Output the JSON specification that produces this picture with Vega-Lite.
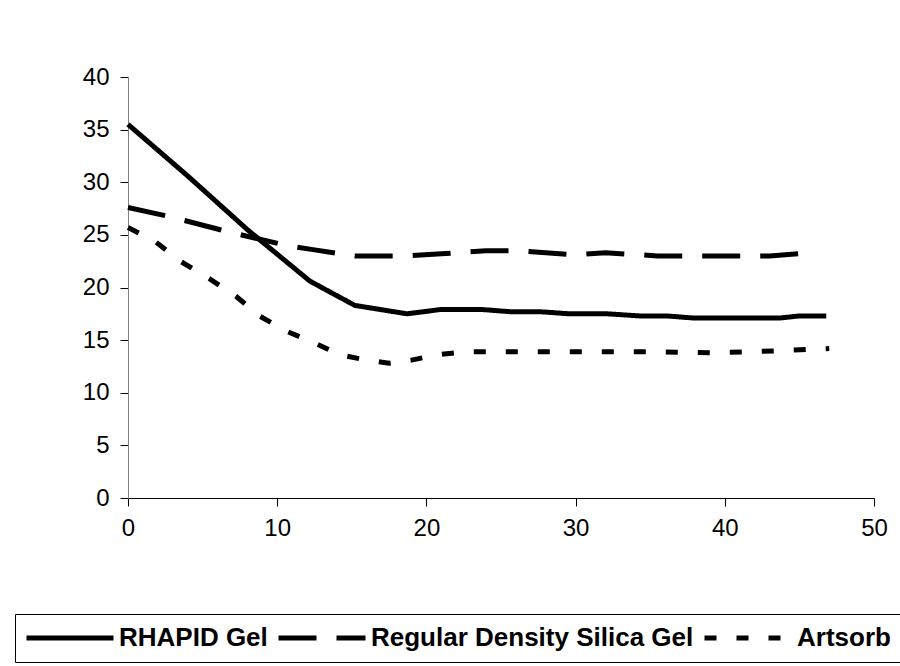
{
  "$schema": "https://vega.github.io/schema/vega-lite/v6.json",
  "autosize": "none",
  "width": 746,
  "height": 421,
  "padding": {"left": 128, "top": 77, "right": 26, "bottom": 168},
  "background": "white",
  "config": {
    "view": {"stroke": null},
    "font": "Liberation Sans",
    "axis": {"grid": false, "labelFont": "Liberation Sans", "labelFontSize": 24, "labelColor": "black", "tickColor": "black", "tickSize": 8, "domainColor": "black", "title": null}
  },
  "data": {"values": [
    {"series": "RHAPID Gel", "x": 0, "y": 35.5},
    {"series": "RHAPID Gel", "x": 4, "y": 30.6},
    {"series": "RHAPID Gel", "x": 8, "y": 25.5},
    {"series": "RHAPID Gel", "x": 12.2, "y": 20.6},
    {"series": "RHAPID Gel", "x": 15.2, "y": 18.3},
    {"series": "RHAPID Gel", "x": 18.7, "y": 17.5},
    {"series": "RHAPID Gel", "x": 20.9, "y": 17.9},
    {"series": "RHAPID Gel", "x": 23.8, "y": 17.9},
    {"series": "RHAPID Gel", "x": 25.6, "y": 17.7},
    {"series": "RHAPID Gel", "x": 27.6, "y": 17.7},
    {"series": "RHAPID Gel", "x": 29.6, "y": 17.5},
    {"series": "RHAPID Gel", "x": 32.1, "y": 17.5},
    {"series": "RHAPID Gel", "x": 34.3, "y": 17.3},
    {"series": "RHAPID Gel", "x": 36.1, "y": 17.3},
    {"series": "RHAPID Gel", "x": 37.9, "y": 17.1},
    {"series": "RHAPID Gel", "x": 43.7, "y": 17.1},
    {"series": "RHAPID Gel", "x": 45, "y": 17.3},
    {"series": "RHAPID Gel", "x": 46.8, "y": 17.3},
    {"series": "Regular Density Silica Gel", "x": 0, "y": 27.6},
    {"series": "Regular Density Silica Gel", "x": 2.6, "y": 26.8},
    {"series": "Regular Density Silica Gel", "x": 6.7, "y": 25.3},
    {"series": "Regular Density Silica Gel", "x": 10.6, "y": 24.0},
    {"series": "Regular Density Silica Gel", "x": 12.4, "y": 23.6},
    {"series": "Regular Density Silica Gel", "x": 15.2, "y": 23.0},
    {"series": "Regular Density Silica Gel", "x": 18.7, "y": 23.0},
    {"series": "Regular Density Silica Gel", "x": 21, "y": 23.2},
    {"series": "Regular Density Silica Gel", "x": 24, "y": 23.5},
    {"series": "Regular Density Silica Gel", "x": 26, "y": 23.5},
    {"series": "Regular Density Silica Gel", "x": 28, "y": 23.3},
    {"series": "Regular Density Silica Gel", "x": 30, "y": 23.1},
    {"series": "Regular Density Silica Gel", "x": 32, "y": 23.3},
    {"series": "Regular Density Silica Gel", "x": 35.5, "y": 23.0},
    {"series": "Regular Density Silica Gel", "x": 39, "y": 23.0},
    {"series": "Regular Density Silica Gel", "x": 43, "y": 23.0},
    {"series": "Regular Density Silica Gel", "x": 45.8, "y": 23.3},
    {"series": "Artsorb", "x": 0, "y": 25.7},
    {"series": "Artsorb", "x": 1.8, "y": 24.4},
    {"series": "Artsorb", "x": 3.5, "y": 22.5},
    {"series": "Artsorb", "x": 5.5, "y": 20.8},
    {"series": "Artsorb", "x": 7.3, "y": 19.1},
    {"series": "Artsorb", "x": 8.8, "y": 17.3},
    {"series": "Artsorb", "x": 10.7, "y": 15.8},
    {"series": "Artsorb", "x": 12.7, "y": 14.6},
    {"series": "Artsorb", "x": 14.2, "y": 13.6},
    {"series": "Artsorb", "x": 16, "y": 13.1},
    {"series": "Artsorb", "x": 17.5, "y": 12.8},
    {"series": "Artsorb", "x": 19, "y": 13.1},
    {"series": "Artsorb", "x": 20.7, "y": 13.6},
    {"series": "Artsorb", "x": 22.7, "y": 13.9},
    {"series": "Artsorb", "x": 26.3, "y": 13.9},
    {"series": "Artsorb", "x": 30.5, "y": 13.9},
    {"series": "Artsorb", "x": 34.9, "y": 13.9},
    {"series": "Artsorb", "x": 39.5, "y": 13.8},
    {"series": "Artsorb", "x": 43.8, "y": 14.0},
    {"series": "Artsorb", "x": 47, "y": 14.2}
  ]},
  "mark": {"type": "line", "color": "black", "strokeWidth": 5},
  "encoding": {
    "x": {"field": "x", "type": "quantitative", "scale": {"domain": [0, 50], "nice": false},
      "axis": {"values": [0, 10, 20, 30, 40, 50], "labelPadding": 10, "labelFlush": false}},
    "y": {"field": "y", "type": "quantitative", "scale": {"domain": [0, 40], "nice": false},
      "axis": {"values": [0, 5, 10, 15, 20, 25, 30, 35, 40], "labelPadding": 11, "domainColor": "#808080"}},
    "strokeDash": {"field": "series", "type": "nominal",
      "scale": {"domain": ["RHAPID Gel", "Regular Density Silica Gel", "Artsorb"], "range": [[1, 0], [38, 20], [12, 20]]},
      "legend": {"title": null, "orient": "none", "legendX": -113, "legendY": 537, "direction": "horizontal",
        "symbolType": "stroke", "symbolSize": 7569, "symbolStrokeWidth": 5, "symbolStrokeColor": "black",
        "clipHeight": 30,
        "labelFont": "Liberation Sans", "labelFontSize": 26, "labelFontWeight": "bold", "labelColor": "black",
        "labelLimit": 600, "labelOffset": 3, "columnPadding": 8, "padding": 9,
        "strokeColor": "black", "fillColor": "white"}},
    "order": {"field": "x", "type": "quantitative"}
  }
}
